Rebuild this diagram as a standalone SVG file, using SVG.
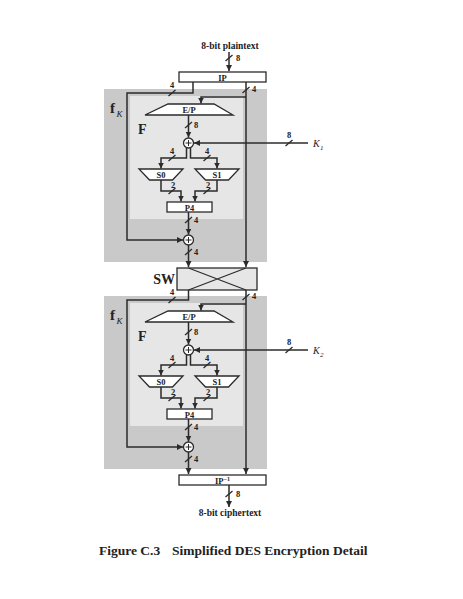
<svg xmlns="http://www.w3.org/2000/svg" xmlns:xlink="http://www.w3.org/1999/xlink" width="463" height="599" viewBox="0 0 463 599">
<style>
.w{stroke:#2b2b2b;stroke-width:1.5;fill:none}
.bx{fill:#fff;stroke:#2b2b2b;stroke-width:1.3}
.t{font-family:"Liberation Serif",serif;font-weight:bold;font-size:8.5px;fill:#222;text-anchor:middle}
.n{font-family:"Liberation Serif",serif;font-weight:bold;font-size:8.5px;fill:#222;text-anchor:middle}
.big{font-family:"Liberation Serif",serif;font-weight:bold;font-size:14px;fill:#222}
.it{font-family:"Liberation Serif",serif;font-style:italic;fill:#222}
.outer{fill:#c9c9c9}
.inner{fill:#e6e6e6}
</style>
<defs>
<marker id="ah" markerUnits="userSpaceOnUse" markerWidth="7" markerHeight="7" refX="6" refY="3" orient="auto">
<path d="M0,0 L6,3 L0,6 z" fill="#2b2b2b"/>
</marker>
<line id="sl" x1="-3.5" y1="3" x2="3.5" y2="-3" stroke="#2b2b2b" stroke-width="1.3"/>
<g id="xor"><circle r="5" fill="#fff" stroke="#2b2b2b" stroke-width="1.3"/><path d="M-3,0H3M0,-3V3" stroke="#2b2b2b" stroke-width="1"/></g>
</defs>

<g id="fk1">
<rect class="outer" x="104" y="89" width="163" height="173"/>
<text class="big" x="110" y="113" style="font-size:15px">f</text><text class="it" x="116.5" y="117" font-size="9">K</text>
</g>
<g id="F1">
<rect class="inner" x="130" y="96" width="113" height="123"/>
<text class="big" x="138" y="134">F</text>
</g>
<g id="fk2">
<rect class="outer" x="104" y="296" width="163" height="173"/>
<text class="big" x="110" y="320" style="font-size:15px">f</text><text class="it" x="116.5" y="324" font-size="9">K</text>
</g>
<g id="F2">
<rect class="inner" x="130" y="303" width="113" height="123"/>
<text class="big" x="138" y="341">F</text>
</g>

<g id="connectors">
<path class="w" d="M229,52V71" marker-end="url(#ah)"/>
<use xlink:href="#sl" x="229" y="58"/>
<text class="n" x="238" y="61">8</text>
<path class="w" d="M193,82V93H127V240H183" marker-end="url(#ah)"/>
<use xlink:href="#sl" x="172" y="93"/><text class="n" x="172" y="88">4</text>
<path class="w" d="M246,82V267" marker-end="url(#ah)"/>
<use xlink:href="#sl" x="246" y="90"/><text class="n" x="254" y="92">4</text>
<path class="w" d="M246,97H201V103.5" marker-end="url(#ah)"/>
<path class="w" d="M188.5,115V137.5" marker-end="url(#ah)"/>
<use xlink:href="#sl" x="188.5" y="125"/><text class="n" x="196" y="128">8</text>
<path class="w" d="M308,143H194" marker-end="url(#ah)"/>
<use xlink:href="#sl" x="289" y="143"/><text class="n" x="289" y="138">8</text>
<path class="w" d="M186.5,148V158H161V168.5" marker-end="url(#ah)"/>
<path class="w" d="M190.5,148V158H217V168.5" marker-end="url(#ah)"/>
<use xlink:href="#sl" x="172" y="158"/><text class="n" x="172" y="154">4</text>
<use xlink:href="#sl" x="207" y="158"/><text class="n" x="207" y="154">4</text>
<path class="w" d="M161,180V191H181V201.5" marker-end="url(#ah)"/>
<path class="w" d="M217,180V191H195V201.5" marker-end="url(#ah)"/>
<use xlink:href="#sl" x="172" y="191"/><text class="n" x="173" y="188">2</text>
<use xlink:href="#sl" x="207" y="191"/><text class="n" x="208" y="188">2</text>
<path class="w" d="M188.5,212V234.5" marker-end="url(#ah)"/>
<use xlink:href="#sl" x="188.5" y="220"/><text class="n" x="196" y="223">4</text>
<path class="w" d="M188.5,245V267" marker-end="url(#ah)"/>
<use xlink:href="#sl" x="188.5" y="252"/><text class="n" x="196" y="255">4</text>
<path class="w" d="M188.5,290V300H127V447H183" marker-end="url(#ah)"/>
<use xlink:href="#sl" x="172" y="300"/><text class="n" x="172" y="295">4</text>
<path class="w" d="M246,290V474" marker-end="url(#ah)"/>
<use xlink:href="#sl" x="246" y="297"/><text class="n" x="254" y="299">4</text>
<path class="w" d="M246,304H201V310.5" marker-end="url(#ah)"/>
<path class="w" d="M188.5,322V344.5" marker-end="url(#ah)"/>
<use xlink:href="#sl" x="188.5" y="332"/><text class="n" x="196" y="335">8</text>
<path class="w" d="M308,350H194" marker-end="url(#ah)"/>
<use xlink:href="#sl" x="289" y="350"/><text class="n" x="289" y="345">8</text>
<path class="w" d="M186.5,355V365H161V375.5" marker-end="url(#ah)"/>
<path class="w" d="M190.5,355V365H217V375.5" marker-end="url(#ah)"/>
<use xlink:href="#sl" x="172" y="365"/><text class="n" x="172" y="361">4</text>
<use xlink:href="#sl" x="207" y="365"/><text class="n" x="207" y="361">4</text>
<path class="w" d="M161,387V398H181V408.5" marker-end="url(#ah)"/>
<path class="w" d="M217,387V398H195V408.5" marker-end="url(#ah)"/>
<use xlink:href="#sl" x="172" y="398"/><text class="n" x="173" y="395">2</text>
<use xlink:href="#sl" x="207" y="398"/><text class="n" x="208" y="395">2</text>
<path class="w" d="M188.5,419V441.5" marker-end="url(#ah)"/>
<use xlink:href="#sl" x="188.5" y="427"/><text class="n" x="196" y="430">4</text>
<path class="w" d="M188.5,452V474" marker-end="url(#ah)"/>
<use xlink:href="#sl" x="188.5" y="459"/><text class="n" x="196" y="462">4</text>
<path class="w" d="M229,485V507" marker-end="url(#ah)"/>
<use xlink:href="#sl" x="229" y="494"/><text class="n" x="238" y="497">8</text>
</g>

<g id="plaintext"><text class="t" x="230" y="49" style="font-size:9.5px">8-bit plaintext</text></g>
<g id="IP"><rect class="bx" x="179" y="72" width="87" height="10"/><text class="t" x="222.5" y="80.5">IP</text></g>

<g id="EP1"><path class="bx" d="M168,104H214L233,115H145Z"/><text class="t" x="189" y="113">E/P</text></g>
<g id="xor1"><use xlink:href="#xor" x="188.5" y="143"/></g>
<g id="K1"><text class="it" x="313" y="147" font-size="10">K</text><text class="it" x="320" y="150" font-size="7">1</text></g>
<g id="S0a"><path class="bx" d="M139,169H183L172.5,180H149.5Z"/><text class="t" x="161" y="178">S0</text></g>
<g id="S1a"><path class="bx" d="M195,169H239L228.5,180H205.5Z"/><text class="t" x="217" y="178">S1</text></g>
<g id="P4a"><rect class="bx" x="167" y="202" width="45" height="10"/><text class="t" x="189.5" y="210.5">P4</text></g>
<g id="xor2"><use xlink:href="#xor" x="188.5" y="240"/></g>

<g id="SW">
<rect x="177" y="268" width="80" height="22" fill="#e6e6e6" stroke="#2b2b2b" stroke-width="1.3"/>
<path d="M188.5,268L246,290M246,268L188.5,290" stroke="#2b2b2b" stroke-width="1.2" fill="none"/>
<text class="big" x="175" y="284" text-anchor="end">SW</text>
</g>

<g id="EP2"><path class="bx" d="M168,311H214L233,322H145Z"/><text class="t" x="189" y="320">E/P</text></g>
<g id="xor3"><use xlink:href="#xor" x="188.5" y="350"/></g>
<g id="K2"><text class="it" x="313" y="354" font-size="10">K</text><text class="it" x="320" y="357" font-size="7">2</text></g>
<g id="S0b"><path class="bx" d="M139,376H183L172.5,387H149.5Z"/><text class="t" x="161" y="385">S0</text></g>
<g id="S1b"><path class="bx" d="M195,376H239L228.5,387H205.5Z"/><text class="t" x="217" y="385">S1</text></g>
<g id="P4b"><rect class="bx" x="167" y="409" width="45" height="10"/><text class="t" x="189.5" y="417.5">P4</text></g>
<g id="xor4"><use xlink:href="#xor" x="188.5" y="447"/></g>

<g id="IPinv"><rect class="bx" x="179" y="475" width="87" height="10"/><text class="t" x="222.5" y="483.5">IP<tspan style="font-size:6px" dy="-3">−1</tspan></text></g>
<g id="ciphertext"><text class="t" x="230" y="516" style="font-size:9.5px">8-bit ciphertext</text></g>

<g id="caption">
<text class="big" x="99" y="555" style="font-size:13.5px">Figure C.3</text>
<text class="big" x="172" y="555" style="font-size:13.5px">Simplified DES Encryption Detail</text>
</g>
</svg>
